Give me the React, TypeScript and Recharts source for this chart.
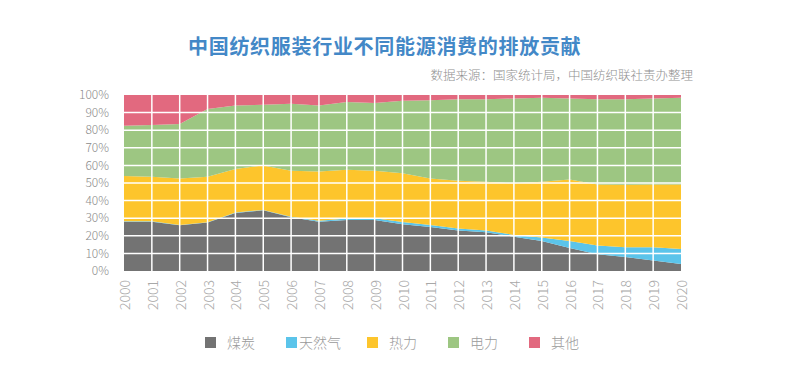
import { AreaChart, Area, XAxis, YAxis, ReferenceLine, Legend } from "recharts";

const years = ["2000", "2001", "2002", "2003", "2004", "2005", "2006", "2007", "2008", "2009", "2010",
  "2011", "2012", "2013", "2014", "2015", "2016", "2017", "2018", "2019", "2020"];

// 各能源占比（%）
const coal = [28, 28, 26, 27.5, 33, 34.5, 30.5, 28, 29, 29, 26.5, 25, 23, 22, 19.5, 17, 13, 9.5, 8, 6, 4];
const gas = [0.2, 0.2, 0.2, 0.2, 0.2, 0.2, 0.3, 0.5, 0.8, 1, 1.3, 1.2, 1.2, 1, 1, 2, 4, 5, 5.5, 7.5, 8.5];
const heat = [25.8, 25.3, 26.3, 25.8, 24.8, 25.3, 26.2, 28, 27.7, 27, 27.7, 26.3, 27.1, 27.7, 29.3, 31.7, 35, 34.7, 35.5, 35.7, 36.7];
const power = [28.5, 29.5, 31, 38.5, 36, 34.5, 38, 37.5, 38.5, 38.5, 41.2, 44.5, 46.3, 46.9, 48.2, 47.7, 46, 48.4, 48.6, 48.8, 49.2];
const other = [17.5, 17, 16.5, 8, 6, 5.5, 5, 6, 4, 4.5, 3.3, 3, 2.4, 2.4, 2, 1.6, 2, 2.4, 2.4, 2, 1.6];

const yTicks = [0, 0.1, 0.2, 0.3, 0.4, 0.5, 0.6, 0.7, 0.8, 0.9, 1];

const series = [
  { key: "coal", name: "煤炭", color: "#737373" },
  { key: "gas", name: "天然气", color: "#5bc4ea" },
  { key: "heat", name: "热力", color: "#fdc52c" },
  { key: "power", name: "电力", color: "#9dc682" },
  { key: "other", name: "其他", color: "#e2697f" },
];

const data = years.map((year, i) => ({
  year,
  coal: coal[i],
  gas: gas[i],
  heat: heat[i],
  power: power[i],
  other: other[i],
}));

const FONT = '"Noto Sans CJK SC", "Noto Sans", sans-serif';

const YearTick = (props: any) => {
  const { x, y, payload } = props;
  return (
    <text
      x={x}
      y={y}
      transform={`rotate(-90, ${x}, ${y})`}
      textAnchor="end"
      dominantBaseline="central"
      fill="#a8a8a8"
      fontSize={14}
      fontWeight={300}
      fontFamily={FONT}
    >
      {payload.value}
    </text>
  );
};

const renderLegend = () => (
  <div style={{ display: "flex", paddingLeft: 205, fontFamily: FONT, height: 20 }}>
    {series.map((s) => (
      <div key={s.key} style={{ width: 81, display: "flex", alignItems: "center" }}>
        <span style={{ display: "inline-block", width: 11, height: 11, background: s.color }} />
        <span style={{ marginLeft: s.key === "gas" ? 2 : 11, fontSize: 14, color: "#9a9a9a", fontWeight: 300 }}>
          {s.name}
        </span>
      </div>
    ))}
  </div>
);

export default function App() {
  return (
    <div style={{ position: "absolute", left: 0, top: 0, width: 800, height: 383, background: "#fff", fontFamily: FONT }}>
      <div
        style={{
          position: "absolute",
          left: 188,
          top: 31,
          fontSize: 20,
          fontWeight: 700,
          color: "#4388c7",
          whiteSpace: "nowrap",
          letterSpacing: 0.7,
        }}
      >
        中国纺织服装行业不同能源消费的排放贡献
      </div>
      <div
        style={{
          position: "absolute",
          right: 107,
          top: 65,
          fontSize: 12.5,
          color: "#8f8f8f",
          whiteSpace: "nowrap",
          fontWeight: 300,
        }}
      >
        数据来源：国家统计局，中国纺织联社责办整理
      </div>
      <div style={{ position: "absolute", left: 0, top: 0 }}>
        <AreaChart
          width={800}
          height={383}
          data={data}
          stackOffset="expand"
          margin={{ top: 95, right: 119, bottom: 47, left: 80 }}
        >
          {series.map((s) => (
            <Area
              key={s.key}
              type="linear"
              dataKey={s.key}
              name={s.name}
              stackId="1"
              stroke="none"
              fill={s.color}
              fillOpacity={1}
              isAnimationActive={false}
            />
          ))}
          {/* 白色网格线画在面积图之上 */}
          {yTicks.slice(1, -1).map((t) => (
            <ReferenceLine key={`h${t}`} y={t} stroke="#ffffff" strokeWidth={1.5} ifOverflow="hidden" />
          ))}
          {years.slice(1, -1).map((yr) => (
            <ReferenceLine key={`v${yr}`} x={yr} stroke="#ffffff" strokeWidth={1.5} ifOverflow="hidden" />
          ))}
          <XAxis
            dataKey="year"
            axisLine={false}
            tickLine={false}
            interval={0}
            height={45}
            tick={<YearTick />}
            tickSize={0}
            tickMargin={9}
          />
          <YAxis
            ticks={yTicks}
            domain={[0, 1]}
            interval={0}
            width={44}
            axisLine={false}
            tickLine={false}
            tickMargin={9}
            tickFormatter={(v: number) => `${Math.round(v * 100)}%`}
            tick={{ fill: "#8a8a8a", fontSize: 12, fontWeight: 300, fontFamily: FONT }}
          />
          <Legend
            verticalAlign="bottom"
            align="left"
            content={renderLegend}
            wrapperStyle={{ left: 0, bottom: 31, width: 800 }}
          />
        </AreaChart>
      </div>
    </div>
  );
}
